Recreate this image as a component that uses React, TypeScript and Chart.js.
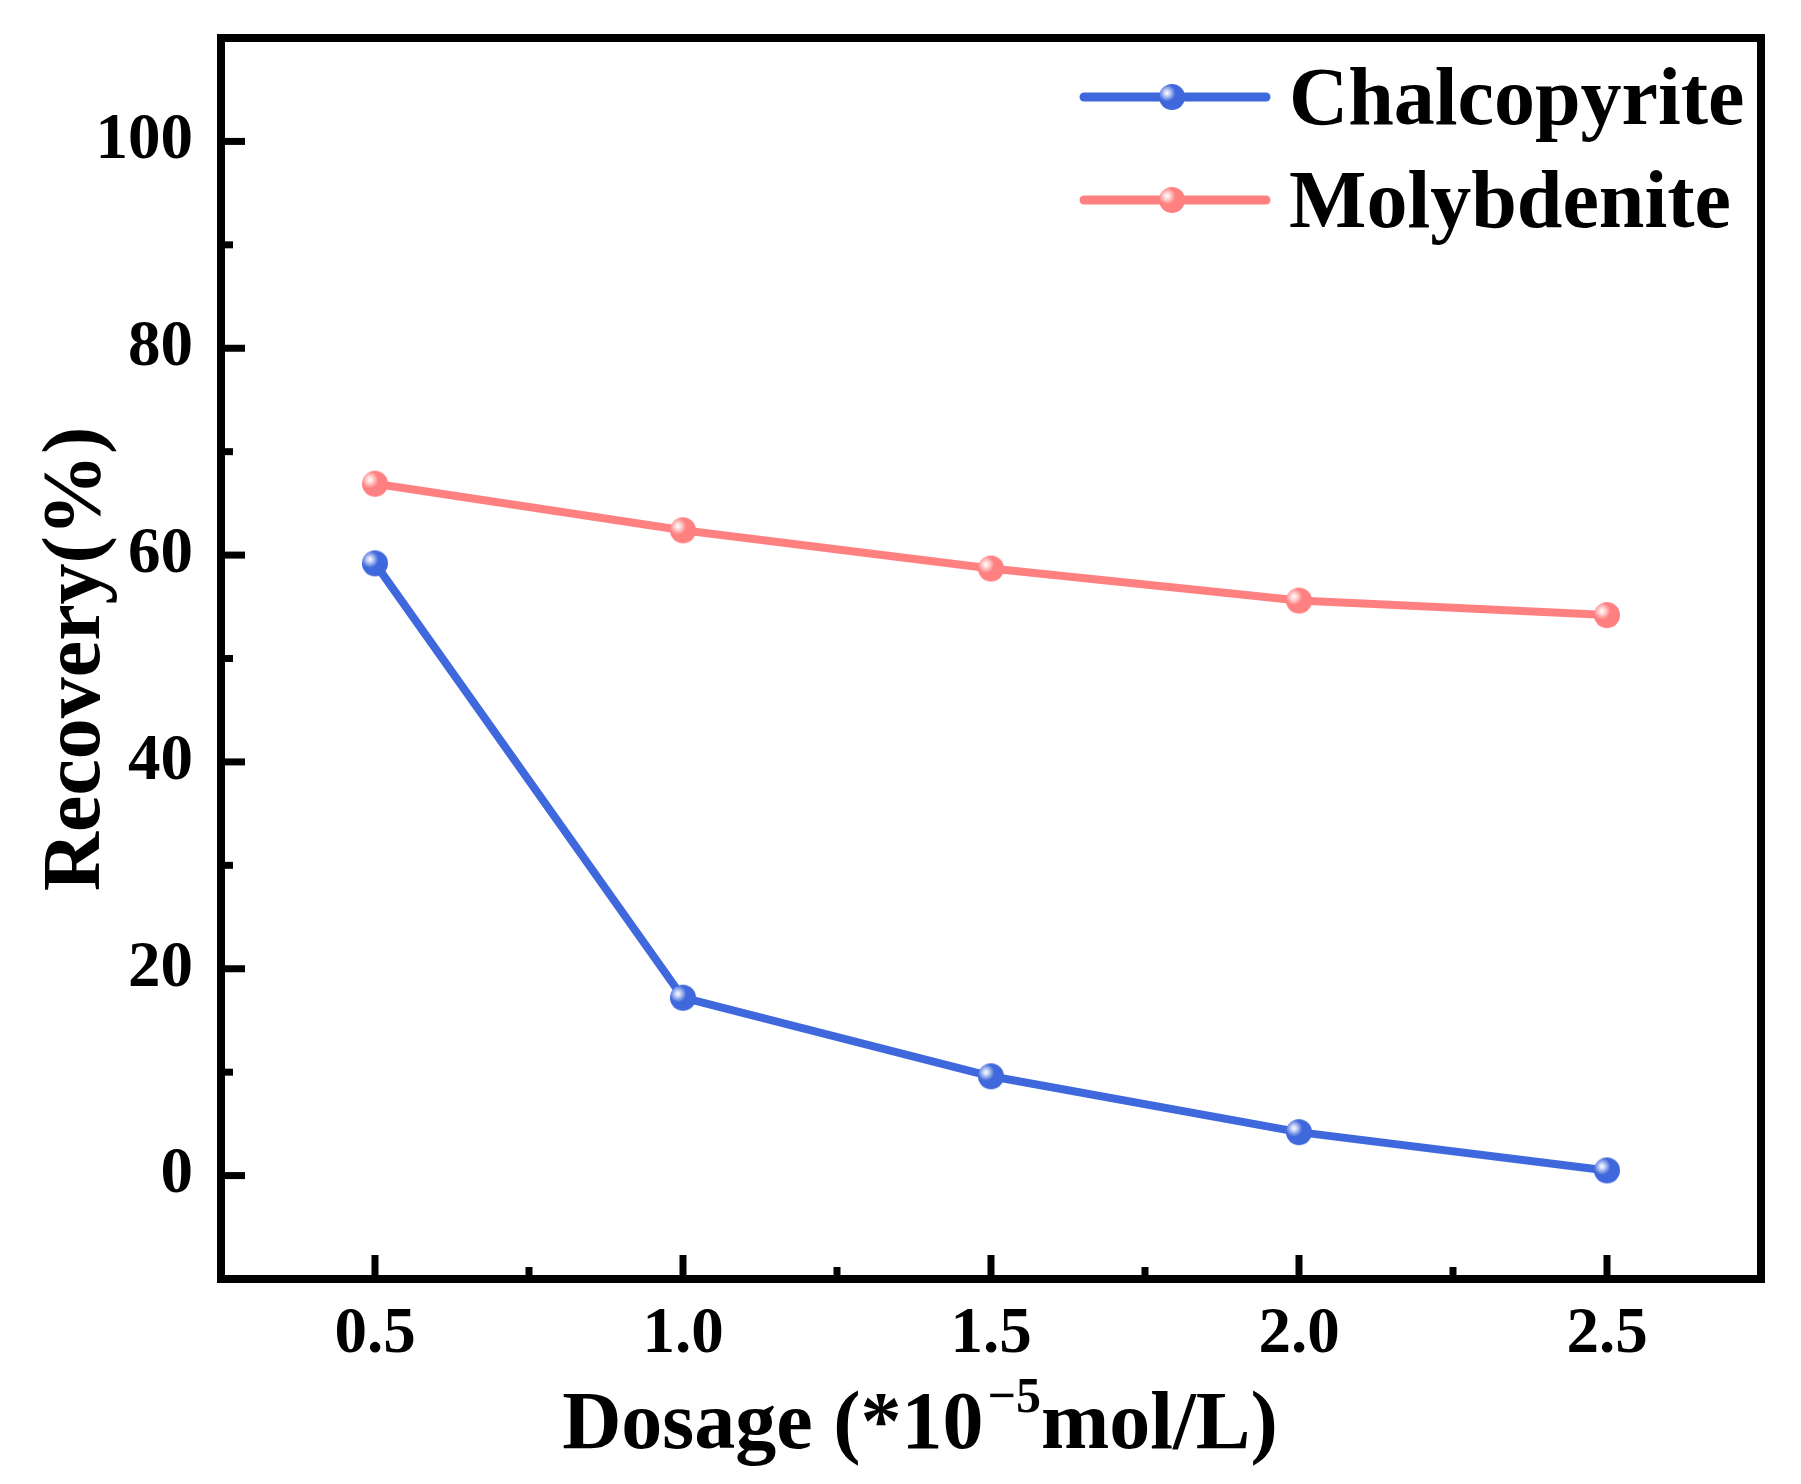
import React, { useEffect, useRef } from "react";
import { Chart, registerables } from "chart.js";

Chart.register(...registerables);

const dosage = [0.5, 1.0, 1.5, 2.0, 2.5];
const chalcopyrite = [59.2, 17.2, 9.6, 4.2, 0.5];
const molybdenite = [66.9, 62.4, 58.7, 55.6, 54.2];

const xTicks = [0.5, 1.0, 1.5, 2.0, 2.5];
const xTickLabels = ["0.5", "1.0", "1.5", "2.0", "2.5"];
const xMinorTicks = [0.75, 1.25, 1.75, 2.25];
const yTicks = [0, 20, 40, 60, 80, 100];
const yMinorTicks = [10, 30, 50, 70, 90];

const seriesNames = ["Chalcopyrite", "Molybdenite"];
const BLUE = "#3f68dc";
const PINK = "#ff8080";
const SERIF = '"Liberation Serif", "Times New Roman", serif';

// little shaded ball, used as the point style
function makeBall(color: string, r: number) {
    const c = document.createElement("canvas");
    c.width = c.height = r * 2 + 2;
    const ctx = c.getContext("2d")!;
    const cx = r + 1;
    ctx.beginPath();
    ctx.arc(cx, cx, r, 0, Math.PI * 2);
    ctx.fillStyle = color;
    ctx.fill();
    const g = ctx.createRadialGradient(cx - 5, cx - 4, 0, cx - 5, cx - 4, r * 0.65);
    g.addColorStop(0, "rgba(255,255,255,1)");
    g.addColorStop(0.3, "rgba(255,255,255,0.75)");
    g.addColorStop(1, "rgba(255,255,255,0)");
    ctx.beginPath();
    ctx.arc(cx, cx, r, 0, Math.PI * 2);
    ctx.fillStyle = g;
    ctx.fill();
    return c;
}

const framePlugin = {
    id: "originFrame",
    afterDraw(chart: any) {
        const { ctx, chartArea: a, scales } = chart;
        const xs = scales.x;
        const ys = scales.y;
        ctx.save();
        ctx.strokeStyle = "#000";
        ctx.lineWidth = 8;
        ctx.strokeRect(a.left, a.top, a.right - a.left, a.bottom - a.top);

        // inward ticks
        ctx.lineWidth = 7;
        ctx.lineCap = "butt";
        const tick = (x1: number, y1: number, x2: number, y2: number) => {
            ctx.beginPath();
            ctx.moveTo(x1, y1);
            ctx.lineTo(x2, y2);
            ctx.stroke();
        };
        xTicks.forEach((v) => {
            const px = xs.getPixelForValue(v);
            tick(px, a.bottom, px, a.bottom - 24);
        });
        xMinorTicks.forEach((v) => {
            const px = xs.getPixelForValue(v);
            tick(px, a.bottom, px, a.bottom - 12);
        });
        yTicks.forEach((v) => {
            const py = ys.getPixelForValue(v);
            tick(a.left, py, a.left + 24, py);
        });
        yMinorTicks.forEach((v) => {
            const py = ys.getPixelForValue(v);
            tick(a.left, py, a.left + 12, py);
        });

        // axis titles
        ctx.fillStyle = "#000";
        ctx.textBaseline = "alphabetic";
        ctx.font = `bold 82px ${SERIF}`;
        ctx.save();
        ctx.translate(99, 659);
        ctx.rotate(-Math.PI / 2);
        ctx.textAlign = "center";
        ctx.fillText("Recovery(%)", 0, 0);
        ctx.restore();

        const main = `bold 82px ${SERIF}`;
        const sup = `bold 50px ${SERIF}`;
        const p1 = "Dosage (*10";
        const p2 = "\u22125";
        const p3 = "mol/L)";
        ctx.textAlign = "left";
        ctx.font = main;
        const w1 = ctx.measureText(p1).width;
        const w3 = ctx.measureText(p3).width;
        ctx.font = sup;
        const w2 = ctx.measureText(p2).width;
        const gap = 4;
        let x = 920 - (w1 + gap + w2 + w3) / 2;
        const base = 1448;
        ctx.font = main;
        ctx.fillText(p1, x, base);
        x += w1 + gap;
        ctx.font = sup;
        ctx.fillText(p2, x, base - 36);
        x += w2;
        ctx.font = main;
        ctx.fillText(p3, x, base);

        // legend
        chart.data.datasets.forEach((ds: any, i: number) => {
            const ly = 97 + i * 103;
            ctx.strokeStyle = ds.borderColor;
            ctx.lineWidth = 9;
            ctx.lineCap = "round";
            tick(1084, ly, 1266, ly);
            const ball = ds.pointStyle as HTMLCanvasElement;
            ctx.drawImage(ball, 1172 - ball.width / 2, ly - ball.height / 2);
            ctx.fillStyle = "#000";
            ctx.font = `bold 82px ${SERIF}`;
            ctx.textAlign = "left";
            ctx.fillText(ds.label, 1289, ly + 27);
        });
        ctx.restore();
    },
};

export default function App() {
    const ref = useRef<HTMLCanvasElement | null>(null);

    useEffect(() => {
        document.body.style.margin = "0";
        if (!ref.current) return;

        const tickFont = { family: SERIF, size: 65, weight: "bold" as const };
        const chart = new Chart(ref.current, {
            type: "line",
            data: {
                datasets: [
                    {
                        label: seriesNames[0],
                        data: dosage.map((x, i) => ({ x, y: chalcopyrite[i] })),
                        borderColor: BLUE,
                        backgroundColor: BLUE,
                        borderWidth: 8,
                        pointStyle: makeBall(BLUE, 13),
                        pointRadius: 13,
                    },
                    {
                        label: seriesNames[1],
                        data: dosage.map((x, i) => ({ x, y: molybdenite[i] })),
                        borderColor: PINK,
                        backgroundColor: PINK,
                        borderWidth: 8,
                        pointStyle: makeBall(PINK, 13),
                        pointRadius: 13,
                    },
                ],
            },
            options: {
                responsive: false,
                animation: false,
                devicePixelRatio: 1,
                layout: { padding: { top: 38, right: 40, left: 0, bottom: 0 } },
                elements: {
                    line: { tension: 0, borderCapStyle: "round", borderJoinStyle: "round" },
                },
                plugins: {
                    legend: { display: false },
                    tooltip: { enabled: false },
                },
                scales: {
                    x: {
                        type: "linear",
                        min: 0.25,
                        max: 2.75,
                        grid: { display: false, drawTicks: false },
                        border: { display: false },
                        afterBuildTicks: (s: any) => {
                            s.ticks = xTicks.map((v) => ({ value: v }));
                        },
                        afterFit: (s: any) => {
                            s.height = 205;
                            s.paddingLeft = 0;
                            s.paddingRight = 0;
                        },
                        ticks: {
                            font: tickFont,
                            color: "#000",
                            padding: 17,
                            maxRotation: 0,
                            autoSkip: false,
                            callback: (_v: any, i: number) => xTickLabels[i],
                        },
                    },
                    y: {
                        type: "linear",
                        min: -10,
                        max: 110,
                        grid: { display: false, drawTicks: false },
                        border: { display: false },
                        afterBuildTicks: (s: any) => {
                            s.ticks = yTicks.map((v) => ({ value: v }));
                        },
                        afterFit: (s: any) => {
                            s.width = 221;
                            s.paddingTop = 0;
                            s.paddingBottom = 0;
                        },
                        ticks: {
                            font: tickFont,
                            color: "#000",
                            padding: 28,
                            autoSkip: false,
                            callback: (v: any) => String(v),
                        },
                    },
                },
            },
            plugins: [framePlugin],
        });

        return () => chart.destroy();
    }, []);

    return (
        <div style={{ width: 1801, height: 1484, background: "#fff" }}>
            <canvas ref={ref} width={1801} height={1484} />
        </div>
    );
}
